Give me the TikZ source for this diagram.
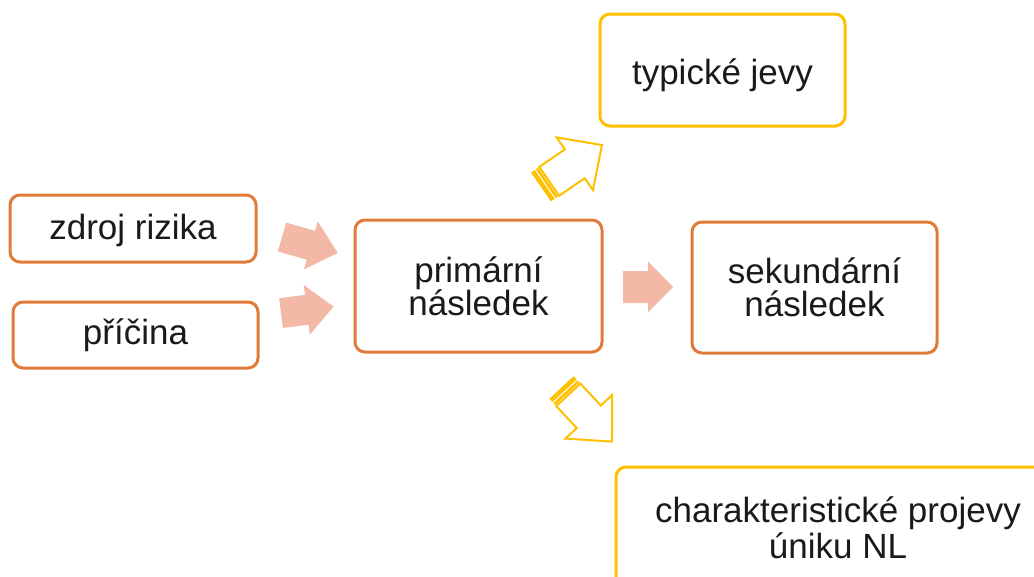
\documentclass[tikz,border=0pt]{standalone}
\usepackage{fontspec}
\setmainfont{Liberation Sans}
\definecolor{boxorange}{HTML}{E07B39}
\definecolor{boxyellow}{HTML}{FFC000}
\definecolor{arrowpink}{HTML}{F4B9A6}
\definecolor{txt}{HTML}{1A1A1A}
\tikzset{
  box/.style={draw=#1, line width=3pt, rounded corners=10pt, fill=white,
    text=txt, align=center, font=\fontsize{35}{36}\selectfont, inner sep=0pt},
  % solid block arrow: length / body half width / head half width / head length
  pics/blockarrow/.style n args={4}{code={
    \fill[arrowpink] (0,-#2) -- (#1-#4,-#2) -- (#1-#4,-#3) -- (#1,0)
      -- (#1-#4,#3) -- (#1-#4,#2) -- (0,#2) -- cycle;}},
  % outlined arrow with two stripes at its tail
  pics/stripedarrow/.style n args={4}{code={
    \fill[boxyellow] (0,-#2) rectangle (4.5,#2);
    \fill[boxyellow] (5.8,-#2) rectangle (8.5,#2);
    \draw[boxyellow, line width=2pt, line join=miter]
      (10,-#2) -- (#1-#4,-#2) -- (#1-#4,-#3) -- (#1,0)
      -- (#1-#4,#3) -- (#1-#4,#2) -- (10,#2) -- cycle;}},
}
\begin{document}
\begin{tikzpicture}[x=1pt, y=-1pt]
  \useasboundingbox (0,0) rectangle (1034,576);
  \begin{scope}
    \clip (0,0) rectangle (1034,576);

    \node[box=boxorange, minimum width=246pt, minimum height=67pt] (zdroj) at (133,228.5) {\rule{0pt}{30pt}zdroj rizika};
    \node[box=boxorange, minimum width=245pt, minimum height=66pt] (pricina) at (135.5,335) {příčina};
    \node[box=boxorange, minimum width=247pt, minimum height=132pt] (primar) at (478.5,286) {primární\\[-3pt]následek};
    \node[box=boxorange, minimum width=245pt, minimum height=131pt] (sekundar) at (814.5,287.5) {sekundární\\[-3pt]následek};
    \node[box=boxyellow, minimum width=245pt, minimum height=112pt] (jevy) at (722.5,70) {\rule{0pt}{36pt}typické jevy};
    \node[box=boxyellow, minimum width=444pt, minimum height=122pt] (projevy) at (838,528) {charakteristické projevy\\úniku NL};

    \pic[rotate=-16] (a1) at (282,237) {blockarrow={58}{15}{25}{28}};
    \pic[rotate=7] (a2) at (281,313) {blockarrow={53}{15}{25}{27}};
    \pic (a3) at (623,287) {blockarrow={50}{16}{25.5}{25}};

    \pic[rotate=34.5] (a4) at (541,187) {stripedarrow={74}{17.5}{32}{33}};
    \pic[rotate=-47] (a5) at (561.5,387.5) {stripedarrow={74}{16.5}{32}{34}};
  \end{scope}
\end{tikzpicture}
\end{document}
